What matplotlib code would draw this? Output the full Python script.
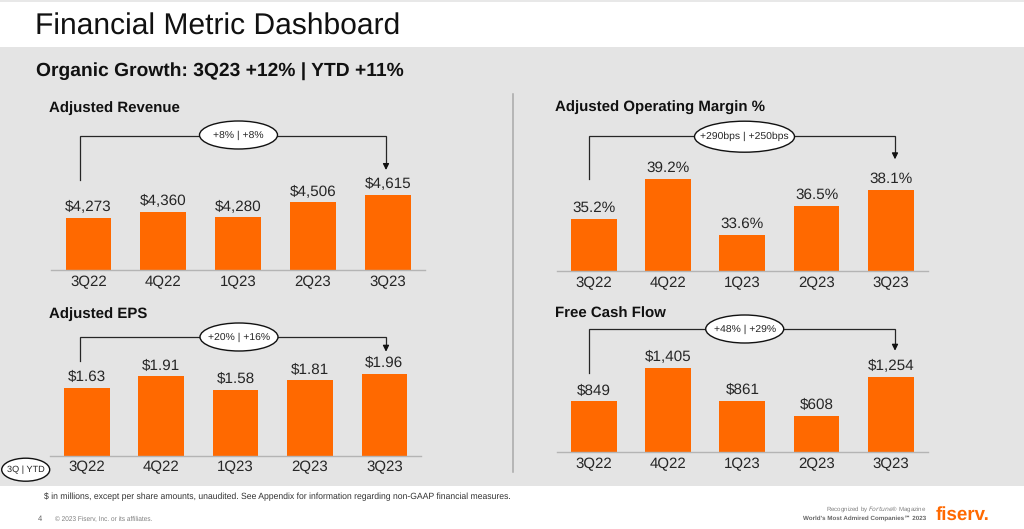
import matplotlib
matplotlib.use('Agg')
import matplotlib.pyplot as plt
from matplotlib.patches import Ellipse, Rectangle

plt.rcParams['font.family'] = ['Liberation Sans', 'DejaVu Sans']
plt.rcParams['text.hinting'] = 'none'

quarters = ['3Q22', '4Q22', '1Q23', '2Q23', '3Q23']

revenue = [4273, 4360, 4280, 4506, 4615]
revenue_labels = ['$4,273', '$4,360', '$4,280', '$4,506', '$4,615']

margin = [35.2, 39.2, 33.6, 36.5, 38.1]
margin_labels = ['35.2%', '39.2%', '33.6%', '36.5%', '38.1%']

eps = [1.63, 1.91, 1.58, 1.81, 1.96]
eps_labels = ['$1.63', '$1.91', '$1.58', '$1.81', '$1.96']

fcf = [849, 1405, 861, 608, 1254]
fcf_labels = ['$849', '$1,405', '$861', '$608', '$1,254']

ORANGE = '#ff6900'
GREY_BG = '#e4e4e4'
W, H = 1024, 529

fig = plt.figure(figsize=(W / 100, H / 100), dpi=100, facecolor='white')

# overlay in pixel coordinates for the slide furniture
page = fig.add_axes([0, 0, 1, 1], zorder=0)
page.set_xlim(0, W)
page.set_ylim(H, 0)
page.axis('off')

top = fig.add_axes([0, 0, 1, 1], zorder=5)
top.set_xlim(0, W)
top.set_ylim(H, 0)
top.axis('off')
top.patch.set_alpha(0)

page.add_patch(Rectangle((0, 47), W, 439, color=GREY_BG, lw=0))
page.add_patch(Rectangle((0, 0), W, 1.5, color='#e8e8e8', lw=0))
page.plot([513, 513], [94, 472], color='#a8a8a8', lw=1.1)

page.text(35, 35, 'Financial Metric Dashboard', fontsize=21.65, color='#111111', va='baseline')
page.text(35.5, 75.3, 'Organic Growth: 3Q23 +12% | YTD +11%', fontsize=13.9, fontweight='bold',
          color='#111111', va='baseline')


def draw_panel(values, labels, title, title_xy, axis_x, baseline, first_center, spacing,
               ymin, px_per_unit, bracket, oval, oval_text):
    ax_h = 130
    ax = fig.add_axes([axis_x[0] / W, 1 - baseline / H, (axis_x[1] - axis_x[0]) / W, ax_h / H], zorder=2)
    ax.patch.set_alpha(0)
    bars = ax.bar(range(len(values)), values, width=45.7 / spacing, color=ORANGE)
    ax.set_xlim((axis_x[0] - first_center) / spacing, (axis_x[1] - first_center) / spacing)
    ax.set_ylim(ymin, ymin + ax_h / px_per_unit)
    ax.bar_label(bars, labels=labels, padding=2.5, fontsize=11, color='#262626')
    ax.set_xticks(range(len(values)))
    ax.set_xticklabels(quarters, fontsize=10.8, color='#262626')
    ax.tick_params(axis='x', length=0, pad=3.5)
    ax.set_yticks([])
    for side in ['top', 'left', 'right']:
        ax.spines[side].set_visible(False)
    ax.spines['bottom'].set_color('#b4b4b4')
    ax.spines['bottom'].set_linewidth(1)

    page.text(title_xy[0], title_xy[1], title, fontsize=10.8, fontweight='bold', color='#111111', va='baseline')

    # bracket with arrow between first and last quarter
    x0, y0, x1, y_top, y1 = bracket
    top.plot([x0, x0, x1, x1], [y0, y_top, y_top, y1 - 4], color='#262626', lw=0.9, solid_joinstyle='miter')
    top.annotate('', xy=(x1, y1), xytext=(x1, y1 - 6),
                 arrowprops=dict(arrowstyle='-|>', color='#111111', lw=0.9, mutation_scale=9,
                                 shrinkA=0, shrinkB=0))
    cx, cy, ow, oh = oval
    top.add_patch(Ellipse((cx, cy), ow, oh, facecolor='white', edgecolor='#111111', lw=1, zorder=3))
    top.text(cx, cy, oval_text, fontsize=7.5, color='#262626', ha='center', va='center', zorder=4)


draw_panel(revenue, revenue_labels, 'Adjusted Revenue', (49, 111.7), (51, 425), 270, 88.5, 74.8,
           3485, 0.0664, (79.5, 180, 386, 136, 170), (238.5, 135, 78, 28), '+8% | +8%')
draw_panel(margin, margin_labels, 'Adjusted Operating Margin %', (555, 111.7), (556.7, 928), 271.3, 593.7, 74.3,
           29.94, 10, (589, 179, 895, 136.3, 159.3), (744.5, 136.7, 100, 31), '+290bps | +250bps')
draw_panel(eps, eps_labels, 'Adjusted EPS', (49, 318), (50, 421), 455.7, 86.8, 74.4,
           0, 41.7, (79.5, 361, 386, 337.3, 351.7), (239, 337, 78, 28), '+20% | +16%')
draw_panel(fcf, fcf_labels, 'Free Cash Flow', (555, 318), (556.7, 928), 452.3, 593.7, 74.3,
           0, 0.06, (589, 373, 895, 329.3, 350.7), (744.7, 329, 78, 28), '+48% | +29%')

top.add_patch(Ellipse((25.7, 469.7), 48, 23, facecolor='white', edgecolor='#111111', lw=1))
top.text(25.7, 469.7, '3Q | YTD', fontsize=6.6, color='#262626', ha='center', va='center')

page.text(44, 496.7, '$ in millions, except per share amounts, unaudited. See Appendix for information regarding non-GAAP financial measures.',
          fontsize=6.23, color='#333333', va='center')
page.text(38, 518.5, '4', fontsize=5.5, color='#666666', va='center')
page.text(55, 518.7, '\u00a9 2023 Fiserv, Inc. or its affiliates.', fontsize=4.7, color='#808080', va='center')

page.text(926, 509.3, 'Recognized by $\\mathit{Fortune}$\u00ae Magazine', fontsize=4.4, color='#808080', ha='right', va='center')
page.text(926, 518.5, "World's Most Admired Companies\u2120 2023", fontsize=4.5, fontweight='bold', color='#666666',
          ha='right', va='center')
page.text(936, 520, 'fiserv.', fontsize=13.5, fontweight='bold', color=ORANGE, va='baseline')

fig.savefig('out.png', dpi=100)
